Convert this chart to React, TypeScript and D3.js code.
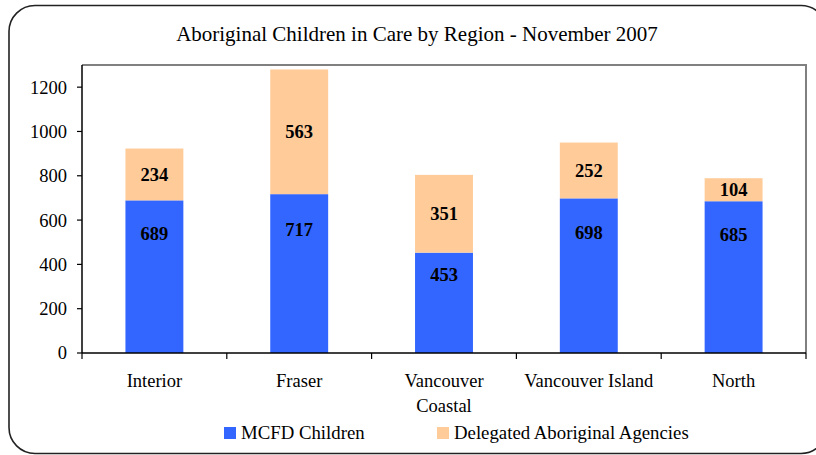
import React from 'react'
import * as d3 from 'd3'

const regions = ['Interior', 'Fraser', 'Vancouver Coastal', 'Vancouver Island', 'North']
const regionLines = [['Interior'], ['Fraser'], ['Vancouver', 'Coastal'], ['Vancouver Island'], ['North']]
const mcfdChildren = [689, 717, 453, 698, 685]
const delegatedAgencies = [234, 563, 351, 252, 104]
const yTicks = [0, 200, 400, 600, 800, 1000, 1200]
const seriesNames = ['MCFD Children', 'Delegated Aboriginal Agencies']
const seriesColors = ['#3366FF', '#FFCC99']

const W = 816
const H = 455
const plot = { left: 82, top: 65, right: 806, bottom: 353 }
const font = "'Liberation Serif', 'Times New Roman', serif"

export default function App() {
  const x = d3
    .scaleBand<string>()
    .domain(regions)
    .range([plot.left, plot.right])
    .paddingInner(0.6)
    .paddingOuter(0.3)
  const y = d3.scaleLinear().domain([0, 1300]).range([plot.bottom, plot.top])

  const rows = regions.map((r, i) => ({ region: r, mcfd: mcfdChildren[i], dele: delegatedAgencies[i] }))
  const stacked = d3.stack<any>().keys(['mcfd', 'dele'])(rows)
  const step = x.step()

  return (
    <svg width={W} height={H} style={{ position: 'absolute', left: 0, top: 0, fontFamily: font }}>
      <rect x={0} y={0} width={W} height={H} fill="#fff" />
      <rect x={9} y={5.5} width={818} height={448} rx={26} fill="#fff" stroke="#222" strokeWidth={1.6} />
      <text x={417} y={41} textAnchor="middle" fontSize={21}>
        Aboriginal Children in Care by Region - November 2007
      </text>

      {/* plot area frame */}
      <path
        d={`M${plot.left},${plot.top}H${plot.right}V${plot.bottom}`}
        fill="none"
        stroke="#808080"
        strokeWidth={2}
      />

      {stacked.map((layer, si) =>
        layer.map((d, i) => (
          <rect
            key={`${si}-${i}`}
            x={x(regions[i])!}
            y={y(d[1])}
            width={x.bandwidth()}
            height={y(d[0]) - y(d[1])}
            fill={seriesColors[si]}
          />
        ))
      )}

      {stacked.map((layer, si) =>
        layer.map((d, i) => {
          const cx = x(regions[i])! + x.bandwidth() / 2
          const top = y(d[1])
          const bot = y(d[0])
          const ly = si === 0 ? top + (bot - top) * 0.22 : (top + bot) / 2
          return (
            <text
              key={`l${si}-${i}`}
              x={cx}
              y={ly}
              dy="0.35em"
              textAnchor="middle"
              fontWeight="bold"
              fontSize={18.5}
            >
              {d[1] - d[0]}
            </text>
          )
        })
      )}

      {/* y axis */}
      <line x1={plot.left} x2={plot.left} y1={plot.top} y2={plot.bottom} stroke="#000" strokeWidth={1.5} />
      {yTicks.map((t) => (
        <g key={t}>
          <line x1={plot.left - 5} x2={plot.left} y1={y(t)} y2={y(t)} stroke="#000" strokeWidth={1.2} />
          <text x={67} y={y(t)} dy="0.35em" textAnchor="end" fontSize={18.5}>
            {t}
          </text>
        </g>
      ))}

      {/* x axis */}
      <line x1={plot.left} x2={plot.right} y1={plot.bottom} y2={plot.bottom} stroke="#000" strokeWidth={1.5} />
      {d3.range(regions.length + 1).map((i) => {
        const tx = plot.left + i * step
        return <line key={i} x1={tx} x2={tx} y1={plot.bottom} y2={plot.bottom + 6} stroke="#000" strokeWidth={1.2} />
      })}
      {regions.map((r, i) => (
        <text key={r} x={x(r)! + x.bandwidth() / 2} y={387} textAnchor="middle" fontSize={18.5}>
          {regionLines[i].map((ln, k) => (
            <tspan key={k} x={x(r)! + x.bandwidth() / 2} dy={k === 0 ? 0 : 25}>
              {ln}
            </tspan>
          ))}
        </text>
      ))}

      {/* legend */}
      {seriesNames.map((s, i) => {
        const lx = i === 0 ? 224 : 437
        return (
          <g key={s}>
            <rect x={lx} y={427} width={12} height={12} fill={seriesColors[i]} />
            <text x={lx + 17} y={439} fontSize={18.8}>
              {s}
            </text>
          </g>
        )
      })}
    </svg>
  )
}
